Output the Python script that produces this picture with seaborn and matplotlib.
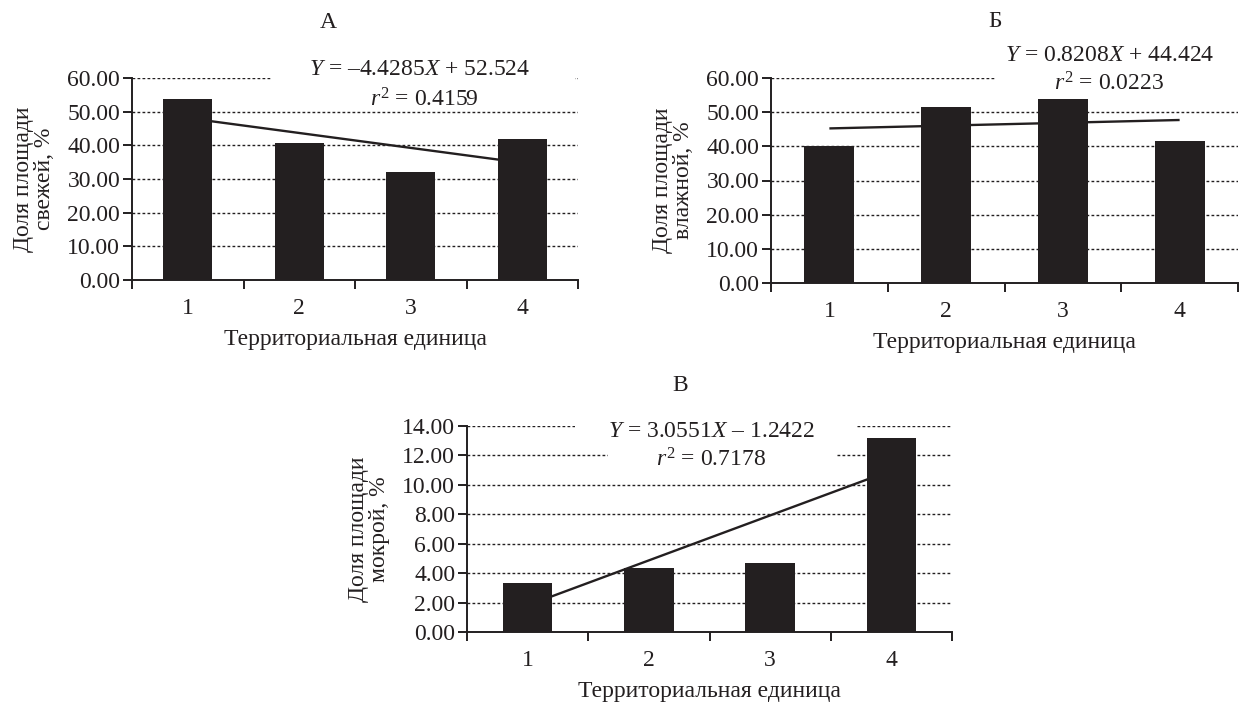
import numpy as np
import matplotlib
matplotlib.use("Agg")
import matplotlib.pyplot as plt
from matplotlib.patches import Rectangle
from matplotlib.ticker import FormatStrFormatter
import seaborn as sns

# ---- data ----
categories = ["1", "2", "3", "4"]
fresh_share = [53.7, 40.6, 32.0, 41.9]      # A: свежей
moist_share = [40.2, 51.5, 53.8, 41.6]      # Б: влажной
wet_share = [3.33, 4.37, 4.70, 13.2]        # В: мокрой

fresh_fit = (-4.4285, 52.524, 0.4159)
moist_fit = (0.8208, 44.424, 0.0223)
wet_fit = (3.0551, -1.2422, 0.7178)

fresh_eq = "$Y$ = –4.4285$X$ + 52.524"
moist_eq = "$Y$ = 0.8208$X$ + 44.424"
wet_eq = "$Y$ = 3.0551$X$ – 1.2422"
fresh_r2 = "$r^2$ = 0.4159"
moist_r2 = "$r^2$ = 0.0223"
wet_r2 = "$r^2$ = 0.7178"

fresh_yticks = [0, 10, 20, 30, 40, 50, 60]
wet_yticks = [0, 2, 4, 6, 8, 10, 12, 14]

titles = ["А", "Б", "В"]
xlabel = "Территориальная единица"
ylabels = ["Доля площади\nсвежей, %", "Доля площади\nвлажной, %", "Доля площади\nмокрой, %"]

# ---- style ----
sns.set_style("white")
plt.rcParams["font.family"] = ["Liberation Serif", "DejaVu Serif"]
plt.rcParams["mathtext.fontset"] = "custom"
plt.rcParams["mathtext.rm"] = "Liberation Serif"
plt.rcParams["mathtext.it"] = "Liberation Serif:italic"
plt.rcParams["mathtext.bf"] = "Liberation Serif:bold"

INK = "#231f20"
FS = 17

W, H = 1245, 706
fig = plt.figure(figsize=(W / 100, H / 100), dpi=100)


def add_axes(left, right, top, bottom):
    return fig.add_axes([left / W, 1 - bottom / H, (right - left) / W, (bottom - top) / H])


def draw_panel(ax, values, fit, yticks, title, title_xy, ylabel, eq, r2, eq_pos, r2_pos,
               masks, bar_width):
    sns.barplot(x=categories, y=values, ax=ax, color=INK, saturation=1,
                width=bar_width, errorbar=None, zorder=2, edgecolor="none")
    xs = np.arange(1, len(categories) + 1)
    trend = fit[0] * xs + fit[1]
    ax.plot(np.arange(len(categories)), trend, color=INK, lw=1.7, zorder=1.5,
            solid_capstyle="butt")

    ax.set_xlim(-0.5, len(categories) - 0.5)
    ax.set_ylim(yticks[0], yticks[-1])
    ax.set_yticks(yticks)
    ax.yaxis.set_major_formatter(FormatStrFormatter("%.2f"))
    ax.set_xticks(range(len(categories)))
    ax.set_xticklabels(categories)
    ax.set_xticks(np.arange(-0.5, len(categories), 1.0), minor=True)

    ax.grid(False)
    ax.set_axisbelow(True)
    for t in yticks[1:]:
        ax.axhline(t, color=INK, lw=1.0, ls=(0, (2.0, 1.6)), zorder=0.5)

    for side in ["top", "right"]:
        ax.spines[side].set_visible(False)
    for side in ["left", "bottom"]:
        ax.spines[side].set_color(INK)
        ax.spines[side].set_linewidth(1.4)
        ax.spines[side].set_zorder(3)

    ax.tick_params(axis="y", which="major", direction="out", length=6.5, width=1.4,
                   color=INK, labelsize=FS, pad=2.0, left=True)
    ax.tick_params(axis="x", which="major", length=0, labelsize=FS, pad=13, bottom=True)
    ax.tick_params(axis="x", which="minor", direction="out", length=6.5, width=1.4,
                   color=INK, bottom=True)

    ax.set_xlabel(xlabel, fontsize=FS, labelpad=7, color=INK)
    ax.set_ylabel(ylabel, fontsize=FS, labelpad=9, color=INK, linespacing=0.98)
    ax.set_title(title, fontsize=FS, x=title_xy[0], y=title_xy[1], pad=0, color=INK)

    for (x0, x1, y0, y1) in masks:
        ax.add_patch(Rectangle((x0, y0), x1 - x0, y1 - y0, transform=ax.transAxes,
                               facecolor="white", edgecolor="none", zorder=0.9,
                               clip_on=False))
    ax.text(eq_pos[0], eq_pos[1], eq, transform=ax.transAxes, ha="center", va="center",
            fontsize=FS, color=INK, zorder=4)
    ax.text(r2_pos[0], r2_pos[1], r2, transform=ax.transAxes, ha="center", va="center",
            fontsize=FS, color=INK, zorder=4)
    for lab in ax.get_xticklabels() + ax.get_yticklabels():
        lab.set_color(INK)


axA = add_axes(132, 578, 78, 280)
draw_panel(axA, fresh_share, fresh_fit, fresh_yticks, titles[0], (0.44, 1.25), ylabels[0],
           fresh_eq, fresh_r2, (0.646, 1.04), (0.655, 0.891),
           [(0.314, 0.993, 0.97, 1.03)], 0.44)

axB = add_axes(771, 1238, 78, 283)
draw_panel(axB, moist_share, moist_fit, fresh_yticks, titles[1], (0.48, 1.25), ylabels[1],
           moist_eq, moist_r2, (0.726, 1.112), (0.724, 0.971),
           [(0.48, 1.0, 0.97, 1.03)], 0.43)

axC = add_axes(467, 952, 426, 632)
draw_panel(axC, wet_share, wet_fit, wet_yticks, titles[2], (0.44, 1.17), ylabels[2],
           wet_eq, wet_r2, (0.505, 0.971), (0.503, 0.835),
           [(0.223, 0.804, 0.97, 1.03), (0.291, 0.763, 0.83, 0.885)], 0.41)

fig.savefig("out.png", dpi=100, facecolor="white")
